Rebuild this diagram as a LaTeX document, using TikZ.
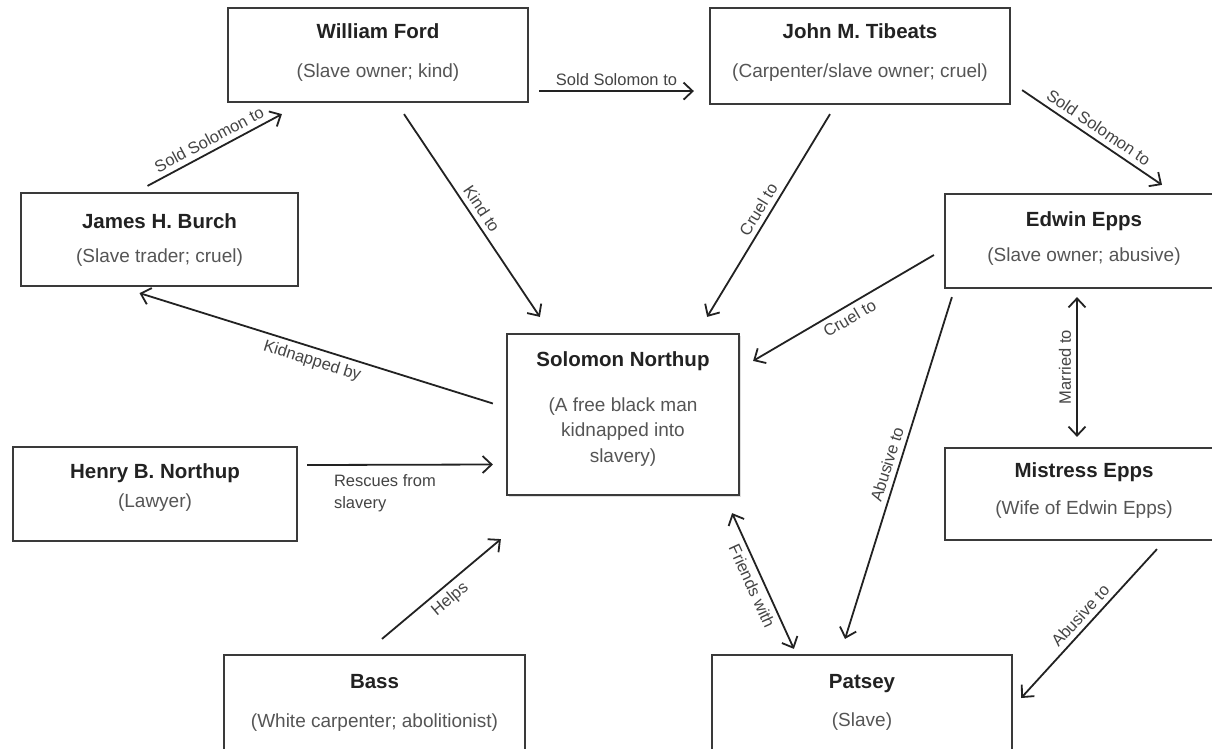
\documentclass[tikz,border=0pt]{standalone}
\usepackage{fontspec}
\setmainfont{Liberation Sans}
\usetikzlibrary{arrows.meta,calc,shadows}
\definecolor{boxline}{HTML}{3A3A3A}
\definecolor{namec}{HTML}{222222}
\definecolor{descc}{HTML}{555555}
\definecolor{labc}{HTML}{444444}
\definecolor{linec}{HTML}{222222}
\begin{document}
\begin{tikzpicture}[x=1pt,y=-1pt,
  box/.style={draw=boxline,line width=2.2pt,fill=white,inner sep=0pt},
  nm/.style={font=\fontsize{20.5}{24}\selectfont\bfseries,text=namec,inner sep=0pt},
  ds/.style={font=\fontsize{19}{25.5}\selectfont,text=descc,inner sep=0pt,align=center},
  tip/.tip={Straight Barb[length=9pt,width=17pt,line width=1.8pt]},
  arr/.style={draw=linec,line width=1.8pt,-tip},
  darr/.style={draw=linec,line width=1.8pt,tip-tip},
  lab/.style={font=\fontsize{16.5}{19}\selectfont,text=labc,sloped,inner sep=5pt}
]
\useasboundingbox (0,0) rectangle (1212,748);
\clip (0,0) rectangle (1212,748);
\fill[white] (0,0) rectangle (1212,748);

% boxes
\node[box,minimum width=300pt,minimum height=94pt] (ford) at (378,55) {};
\node[nm] (fordT) at ([shift={(0,24)}]ford.north) {William Ford};
\node[ds] (fordS) at ([shift={(0,66)}]ford.north) {(Slave owner; kind)};

\node[box,minimum width=300pt,minimum height=96pt] (tib) at (860,56) {};
\node[nm] (tibT) at ([shift={(0,24)}]tib.north) {John M. Tibeats};
\node[ds] (tibS) at ([shift={(0,66)}]tib.north) {(Carpenter/slave owner; cruel)};

\node[box,minimum width=277pt,minimum height=93pt] (burch) at (159.5,239.5) {};
\node[nm] (burchT) at ([shift={(0,29)}]burch.north) {James H. Burch};
\node[ds] (burchS) at ([shift={(0,66)}]burch.north) {(Slave trader; cruel)};

\node[box,minimum width=278pt,minimum height=94pt] (epps) at (1084,241) {};
\node[nm] (eppsT) at ([shift={(0,28)}]epps.north) {Edwin Epps};
\node[ds] (eppsS) at ([shift={(0,64)}]epps.north) {(Slave owner; abusive)};

\node[box,minimum width=278pt,minimum height=92pt] (mist) at (1084,494) {};
\node[nm] (mistT) at ([shift={(0,25)}]mist.north) {Mistress Epps};
\node[ds] (mistS) at ([shift={(0,63)}]mist.north) {(Wife of Edwin Epps)};

\node[box,minimum width=232pt,minimum height=161pt,drop shadow={opacity=0.25,shadow xshift=2pt,shadow yshift=-2pt}] (sol) at (623,414.5) {};
\node[nm] (solT) at ([shift={(0,28)}]sol.north) {Solomon Northup};
\node[ds] (solS) at ([shift={(0,99)}]sol.north) {(A free black man\\kidnapped into\\slavery)};

\node[box,minimum width=284pt,minimum height=94pt] (henry) at (155,494) {};
\node[nm] (henryT) at ([shift={(0,27)}]henry.north) {Henry B. Northup};
\node[ds] (henryS) at ([shift={(0,57)}]henry.north) {(Lawyer)};

\node[box,minimum width=301pt,minimum height=97pt] (bass) at (374.5,703.5) {};
\node[nm] (bassT) at ([shift={(0,28)}]bass.north) {Bass};
\node[ds] (bassS) at ([shift={(0,69)}]bass.north) {(White carpenter; abolitionist)};

\node[box,minimum width=300pt,minimum height=97pt] (pat) at (862,703.5) {};
\node[nm] (patT) at ([shift={(0,30)}]pat.north) {Patsey};
\node[ds] (patS) at ([shift={(0,68)}]pat.north) {(Slave)};

% connectors
\draw[arr] ([shift={(-12,-6)}]burch.north) -- node[lab,above] (l1) {Sold Solomon to} ([shift={(55,11)}]ford.south west);
\draw[arr] ([shift={(10,-12)}]ford.south east) -- node[lab,above] (l2) {Sold Solomon to} ([shift={(-15,-14)}]tib.south west);
\draw[arr] ([shift={(11,-15)}]tib.south east) -- node[lab,above] (l3) {Sold Solomon to} ([shift={(78,-8)}]epps.north);
\draw[arr] ([shift={(26,11)}]ford.south) -- node[lab,above] (l4) {Kind to} ([shift={(34,-16)}]sol.north west);
\draw[arr] ([shift={(-30,9)}]tib.south) -- node[lab,above] (l5) {Cruel to} ([shift={(-33,-16)}]sol.north east);
\draw[arr] ([shift={(-10,14)}]epps.west) -- node[lab,below] (l6) {Cruel to} ([shift={(13,28)}]sol.north east);
\draw[arr] ([shift={(-13,-11)}]sol.west) -- node[lab,below] (l7) {Kidnapped by} ([shift={(-20,6)}]burch.south);
\draw[arr] ([shift={(9,-29)}]henry.east) -- node[font=\fontsize{16.5}{22}\selectfont,text=labc,align=left,anchor=north west,inner sep=0pt,pos=0.14,yshift=-9pt] (l8) {Rescues from\\slavery} ([shift={(-13,50)}]sol.west);
\draw[arr] ([shift={(7.5,-15)}]bass.north) -- node[lab,below] (l9) {Helps} ([shift={(-5,43)}]sol.south west);
\draw[darr] ([shift={(-8,17)}]sol.south east) -- node[lab,below] (l10) {Friends with} ([shift={(83,-5)}]pat.north west);
\draw[arr] ([shift={(8,8)}]epps.south west) -- node[lab,above] (l11) {Abusive to} ([shift={(-17,-15)}]pat.north);
\draw[darr] ([shift={(-7,-10)}]mist.north) -- node[lab,above] (l12) {Married to} ([shift={(-7,8)}]epps.south);
\draw[arr] ([shift={(73,8)}]mist.south) -- node[lab,above] (l13) {Abusive to} ([shift={(8,-5.5)}]pat.east);
\end{tikzpicture}
\end{document}
